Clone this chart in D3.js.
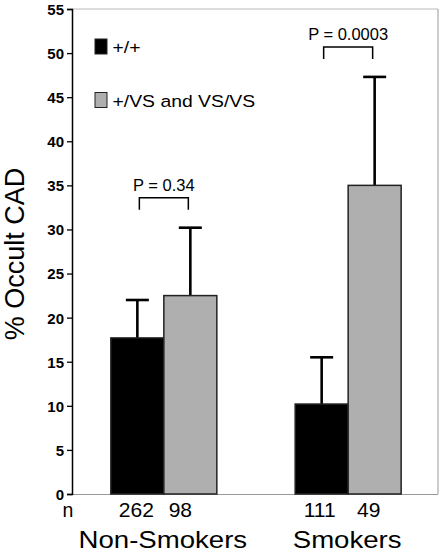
<!DOCTYPE html>
<html><head><meta charset="utf-8">
<script src="https://cdn.jsdelivr.net/npm/d3@7"></script>
<style>body{margin:0;background:#fff}svg{display:block}text{font-family:Arial,"Liberation Sans",sans-serif;fill:#000}</style>
</head><body><svg id="c" width="444" height="554"></svg>
<script>
const groups = ["Non-Smokers", "Smokers"];
const genotypes = ["+/+", "+/VS and VS/VS"];
const means = [[17.7, 22.5], [10.2, 35.0]];
const errors = [[4.3, 7.7], [5.3, 12.3]];
const counts = [["262", "98"], ["111", "49"]];
const pValues = ["P = 0.34", "P = 0.0003"];
const yTicks = [0, 5, 10, 15, 20, 25, 30, 35, 40, 45, 50, 55];
const colors = ["#000000", "#afafaf"];

const svg = d3.select("#c");
const L = 72, R = 438, T = 9, B = 494;
const y = d3.scaleLinear().domain([0, 55]).range([B, T]);
const x0 = d3.scaleBand().domain(groups).range([74, 438]).paddingInner(0.425).paddingOuter(0.2);
const x1 = d3.scaleBand().domain(genotypes).range([0, x0.bandwidth()]);

// frame
svg.append("line").attr("x1", L).attr("x2", R).attr("y1", T).attr("y2", T).attr("stroke", "#bbb").attr("stroke-width", 1);
svg.append("line").attr("x1", R).attr("x2", R).attr("y1", T).attr("y2", B).attr("stroke", "#999").attr("stroke-width", 1);
svg.append("line").attr("x1", L).attr("x2", R).attr("y1", B + 0.5).attr("y2", B + 0.5).attr("stroke", "#999").attr("stroke-width", 1);

// y axis
const ax = svg.append("g").attr("transform", `translate(${L},0)`)
  .call(d3.axisLeft(y).tickValues(yTicks).tickSize(5).tickPadding(3).tickFormat(d3.format("d")));
ax.select(".domain").attr("stroke", "#000").attr("stroke-width", 1.5);
ax.selectAll(".tick line").attr("stroke", "#000").attr("stroke-width", 1.3);
ax.selectAll(".tick text").attr("font-size", 15).attr("font-weight", "bold").attr("fill", "#000")
  .attr("font-family", "Arial, 'Liberation Sans', sans-serif").attr("dy", "0.36em");

// y label
svg.append("text").attr("transform", `translate(24,254) rotate(-90)`).attr("text-anchor", "middle")
  .attr("font-size", 27).text("% Occult CAD");

// bars
groups.forEach((g, gi) => {
  const gx = x0(g);
  genotypes.forEach((t, ti) => {
    const bx = gx + x1(t), bw = x1.bandwidth();
    const v = means[gi][ti], e = errors[gi][ti];
    const cx = bx + bw / 2;
    svg.append("line").attr("x1", cx).attr("x2", cx).attr("y1", y(v)).attr("y2", y(v + e)).attr("stroke", "#000").attr("stroke-width", 2.6);
    svg.append("line").attr("x1", cx - 11.5).attr("x2", cx + 11.5).attr("y1", y(v + e)).attr("y2", y(v + e)).attr("stroke", "#000").attr("stroke-width", 2.6);
    svg.append("rect").attr("x", bx).attr("y", y(v)).attr("width", bw).attr("height", y(0) - y(v))
      .attr("fill", colors[ti]).attr("stroke", "#222").attr("stroke-width", 1.5);
    const off = [[-1, -10], [-2, -6]][gi][ti];
    svg.append("text").attr("transform", `translate(${cx + off},517) scale(1.08,1)`).attr("text-anchor", "middle").attr("font-size", 19.5).text(counts[gi][ti]);
  });
  const gc = gx + x0.bandwidth() / 2;
  svg.append("text").attr("transform", `translate(${gc - 1},548) scale(1.2,1)`).attr("text-anchor", "middle")
    .attr("font-size", 23).text(g);
  const c1 = gx + x1(genotypes[0]) + x1.bandwidth() / 2 + 2;
  const c2 = gx + x1(genotypes[1]) + x1.bandwidth() / 2 - 2;
  const topV = Math.max(means[gi][0] + errors[gi][0], means[gi][1] + errors[gi][1]);
  const by = y(topV) - 30;
  svg.append("path").attr("d", `M${c1},${by + 12}V${by}H${c2}V${by + 12}`).attr("fill", "none").attr("stroke", "#000").attr("stroke-width", 1.5);
  svg.append("text").attr("x", (c1 + c2) / 2).attr("y", by - 6.5).attr("text-anchor", "middle").attr("font-size", 16.5).text(pValues[gi]);
});

svg.append("text").attr("x", 68).attr("y", 517).attr("text-anchor", "middle").attr("font-size", 19.5).text("n");

// legend
genotypes.forEach((t, i) => {
  const ly = 39 + i * 53.5;
  svg.append("rect").attr("x", 95).attr("y", ly).attr("width", 12).attr("height", 15)
    .attr("fill", colors[i]).attr("stroke", "#222").attr("stroke-width", 1);
  svg.append("text").attr("transform", `translate(112.5,${ly + 14}) scale(1.14,1)`).attr("font-size", 17).text(t);
});
</script></body></html>
